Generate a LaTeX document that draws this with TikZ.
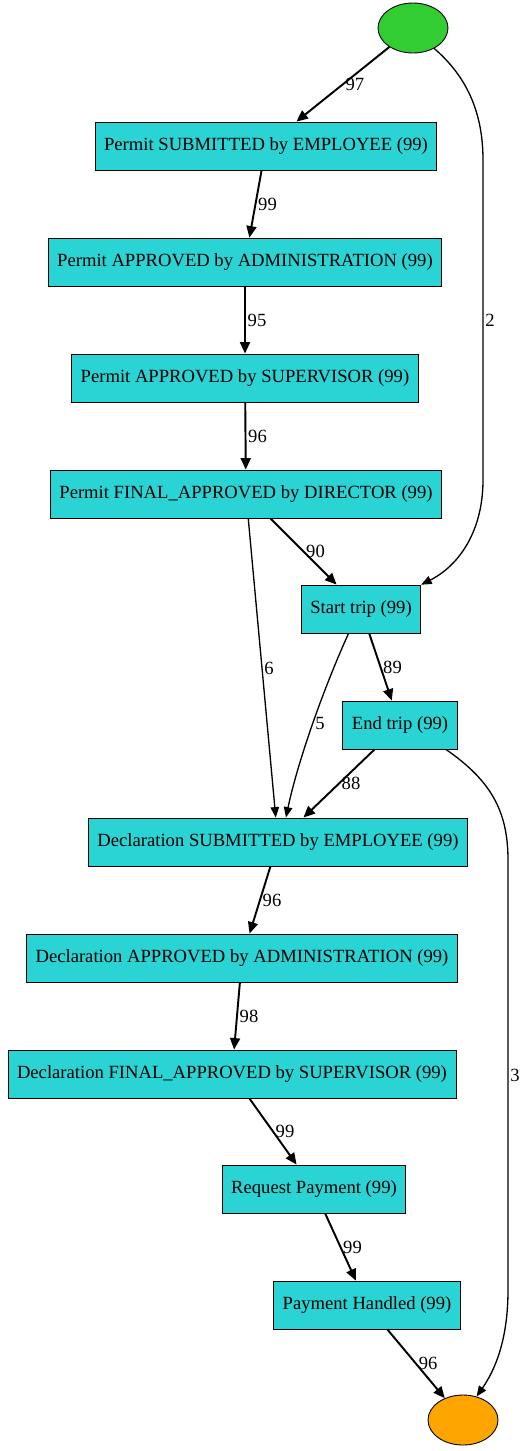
\documentclass[tikz,border=0pt]{standalone}
\usepackage{fontspec}
\setmainfont{Liberation Serif}
\usetikzlibrary{arrows.meta,shapes.geometric}
\definecolor{actcyan}{HTML}{2BD4D4}
\definecolor{startgreen}{HTML}{32CD32}
\definecolor{endorange}{HTML}{FFA500}

\begin{document}
\begin{tikzpicture}[
  x=0.02cm, y=-0.02cm,
  font=\fontsize{10.6}{12.7}\selectfont,
  activity/.style={
    draw,
    fill=actcyan,
    line width=0.5pt,
    minimum height=0.96cm,
    inner xsep=0.18cm
  },
  startev/.style={ellipse, draw, fill=startgreen, line width=0.5pt,
    minimum width=1.4cm, minimum height=1.0cm},
  endev/.style={ellipse, draw, fill=endorange, line width=0.5pt,
    minimum width=1.4cm, minimum height=1.0cm},
  arrow/.style={-{Triangle[length=0.23cm, width=0.2cm]}, line width=1.1pt},
  thinarrow/.style={-{Triangle[length=0.21cm, width=0.17cm]}, line width=0.75pt},
  lbl/.style={right, inner sep=1pt}
]
\useasboundingbox (0,0) rectangle (523,1451);

\node[startev] (source) at (413,28) {};
\node[activity] (psub) at (266,146) {Permit SUBMITTED by EMPLOYEE (99)};
\node[activity] (padm) at (245,262) {Permit APPROVED by ADMINISTRATION (99)};
\node[activity] (psup) at (245,378) {Permit APPROVED by SUPERVISOR (99)};
\node[activity] (pfin) at (246,494) {Permit FINAL\_APPROVED by DIRECTOR (99)};
\node[activity] (strip) at (361,609) {Start trip (99)};
\node[activity] (etrip) at (400,725) {End trip (99)};
\node[activity] (dsub) at (278,842) {Declaration SUBMITTED by EMPLOYEE (99)};
\node[activity] (dadm) at (242,958) {Declaration APPROVED by ADMINISTRATION (99)};
\node[activity] (dfin) at (232,1074) {Declaration FINAL\_APPROVED by SUPERVISOR (99)};
\node[activity] (reqpay) at (314,1189) {Request Payment (99)};
\node[activity] (payh) at (367,1305) {Payment Handled (99)};
\node[endev] (sink) at (463,1420) {};

\draw[arrow] (source) -- node[lbl]{97} (psub);
\draw[arrow] (psub) -- node[lbl]{99} (padm);
\draw[arrow] (padm) -- node[lbl]{95} (psup);
\draw[arrow] (psup) -- node[lbl]{96} (pfin);
\draw[arrow] (pfin) -- node[lbl]{90} (strip);
\draw[thinarrow] (pfin) -- node[lbl]{6} (dsub);
\draw[arrow] (strip) -- node[lbl]{89} (etrip);
\draw[thinarrow] (strip.243) .. controls (325,685) and (298,760) .. node[lbl]{5} (dsub.72);
\draw[arrow] (etrip) -- node[lbl]{88} (dsub);
\draw[arrow] (dsub) -- node[lbl]{96} (dadm);
\draw[arrow] (dadm) -- node[lbl]{98} (dfin);
\draw[arrow] (dfin) -- node[lbl]{99} (reqpay);
\draw[arrow] (reqpay) -- node[lbl]{99} (payh);
\draw[arrow] (payh) -- node[lbl]{96} (sink);
\draw[thinarrow] (source.-44) .. controls (465,75) and (483,110) .. (483,160)
  -- node[lbl]{2} (483,480) .. controls (483,530) and (460,565) .. (strip.22);
\draw[thinarrow] (etrip.-28) .. controls (490,780) and (508,810) .. (508,860)
  -- node[lbl]{3} (508,1290) .. controls (508,1340) and (495,1370) .. (sink.60);

\end{tikzpicture}
\end{document}
